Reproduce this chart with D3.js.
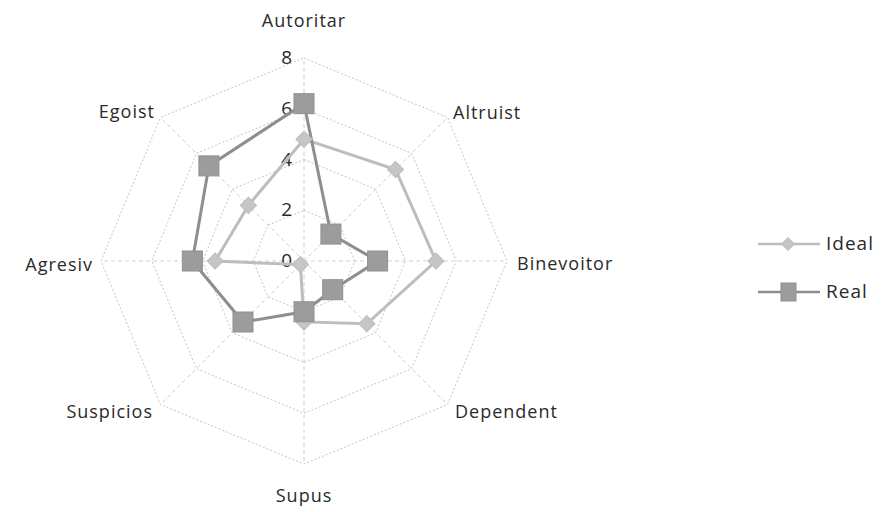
<!DOCTYPE html>
<html>
<head>
<meta charset="utf-8">
<script src="https://cdn.jsdelivr.net/npm/d3@7"></script>
<style>
  body { margin: 0; background: #fff; }
  text { font-family: "Open Sans", "DejaVu Sans", sans-serif; fill: #2a2a2a; }
</style>
</head>
<body>
<div id="chart"></div>
<script>
    var width = 883;
    var height = 512;

    // categories clockwise from the top
    var categories = ["Autoritar", "Altruist", "Binevoitor", "Dependent", "Supus", "Suspicios", "Agresiv", "Egoist"];
    var idealValues = [4.8, 5.1, 5.2, 3.5, 2.4, 0.2, 3.5, 3.1];
    var realValues = [6.2, 1.5, 2.9, 1.6, 2.0, 3.4, 4.4, 5.3];
    var tickValues = [0, 2, 4, 6, 8];
    var seriesNames = ["Ideal", "Real"];

    var cx = 304, cy = 261, outer = 203;

    var r = d3.scaleLinear().domain([0, 8]).range([0, outer]);
    var angle = d3.scalePoint().domain(categories.concat(["_end"])).range([0, 2 * Math.PI]);

    var svg = d3.select("#chart")
                .append("svg")
                .attr("width", width)
                .attr("height", height);

    var g = svg.append("g").attr("transform", "translate(" + cx + "," + cy + ")");

    var pt = function(cat, v) {
      var a = angle(cat);
      return [Math.sin(a) * r(v), -Math.cos(a) * r(v)];
    };

    // rings
    tickValues.slice(1).forEach(function(t) {
      g.append("polygon")
       .attr("points", categories.map(function(c) { return pt(c, t).join(","); }).join(" "))
       .attr("fill", "none")
       .attr("stroke", "#c4c4c4")
       .attr("stroke-width", 1)
       .attr("stroke-dasharray", "2,2");
    });

    // spokes
    categories.forEach(function(c) {
      var p = pt(c, 8);
      g.append("line")
       .attr("x1", 0).attr("y1", 0)
       .attr("x2", p[0]).attr("y2", p[1])
       .attr("stroke", "#d0d0d0")
       .attr("stroke-width", 1)
       .attr("stroke-dasharray", "4,3");
    });

    // tick labels
    tickValues.forEach(function(t) {
      g.append("text")
       .attr("x", -12)
       .attr("y", -r(t) + 1)
       .attr("text-anchor", "end")
       .attr("dominant-baseline", "middle")
       .style("font-size", "19px")
       .text(t);
    });

    // category labels
    var labelPos = {
      "Autoritar": [0, -239, "middle"],
      "Altruist": [149, -147, "start"],
      "Binevoitor": [213, 4, "start"],
      "Dependent": [151, 152, "start"],
      "Supus": [0, 236, "middle"],
      "Suspicios": [-151, 152, "end"],
      "Agresiv": [-211, 5, "end"],
      "Egoist": [-149, -148, "end"]
    };
    categories.forEach(function(c) {
      var p = labelPos[c];
      g.append("text")
       .attr("x", p[0]).attr("y", p[1])
       .attr("text-anchor", p[2])
       .attr("dominant-baseline", "middle")
       .style("font-size", "18px")
       .style("letter-spacing", "1px")
       .text(c);
    });

    var radial = d3.lineRadial()
                   .angle(function(d, i) { return angle(categories[i]); })
                   .radius(function(d) { return r(d); })
                   .curve(d3.curveLinearClosed);

    // Ideal
    g.append("path")
     .attr("d", radial(idealValues))
     .attr("fill", "none")
     .attr("stroke", "#bdbdbd")
     .attr("stroke-width", 3);

    // Real
    g.append("path")
     .attr("d", radial(realValues))
     .attr("fill", "none")
     .attr("stroke", "#8e8e8e")
     .attr("stroke-width", 3);

    var diamond = d3.symbol().type(d3.symbolSquare).size(130);
    idealValues.forEach(function(v, i) {
      var p = pt(categories[i], v);
      g.append("path")
       .attr("d", diamond())
       .attr("transform", "translate(" + p[0] + "," + p[1] + ") rotate(45)")
       .attr("fill", "#c6c6c6")
       .attr("stroke", "#bcbcbc");
    });

    realValues.forEach(function(v, i) {
      var p = pt(categories[i], v);
      g.append("rect")
       .attr("x", p[0] - 10).attr("y", p[1] - 10)
       .attr("width", 20).attr("height", 20)
       .attr("fill", "#9c9c9c")
       .attr("stroke", "#909090");
    });

    // legend
    var legendY = [244, 292];
    var smallDiamond = d3.symbol().type(d3.symbolSquare).size(80);
    seriesNames.forEach(function(name, i) {
      var lg = svg.append("g").attr("transform", "translate(758," + legendY[i] + ")");
      lg.append("line")
        .attr("x1", 0).attr("x2", 62).attr("y1", 0).attr("y2", 0)
        .attr("stroke", i === 0 ? "#bdbdbd" : "#8e8e8e")
        .attr("stroke-width", 2.5);
      if (i === 0) {
        lg.append("path")
          .attr("d", smallDiamond())
          .attr("transform", "translate(30,0) rotate(45)")
          .attr("fill", "#c6c6c6").attr("stroke", "#bcbcbc");
      } else {
        lg.append("rect")
          .attr("x", 23).attr("y", -9).attr("width", 15).attr("height", 18)
          .attr("fill", "#9c9c9c").attr("stroke", "#909090");
      }
      lg.append("text")
        .attr("x", 68).attr("y", 1)
        .attr("dominant-baseline", "middle")
        .style("font-size", "19px")
        .style("letter-spacing", "1px")
        .text(name);
    });
</script>
</body>
</html>
